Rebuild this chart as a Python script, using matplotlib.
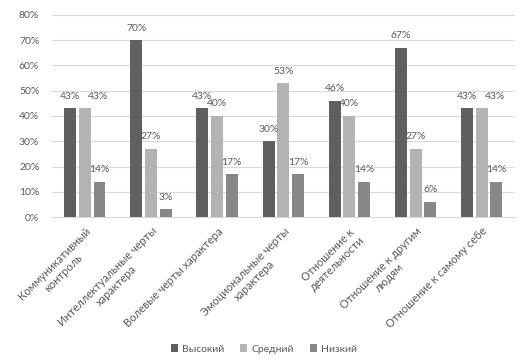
import matplotlib
matplotlib.use("Agg")
import matplotlib.pyplot as plt
import numpy as np

categories = ["Коммуникативный\nконтроль", "Интеллектуальные черты\nхарактера",
              "Волевые черты характера", "Эмоциональные черты\nхарактера",
              "Отношение к\nдеятельности", "Отношение к другим\nлюдям",
              "Отношение к самому себе"]
series_names = ["Высокий", "Средний", "Низкий"]
high = [43, 70, 43, 30, 46, 67, 43]
mid = [43, 27, 40, 53, 40, 27, 43]
low = [14, 3, 17, 17, 14, 6, 14]
yticks = [0, 10, 20, 30, 40, 50, 60, 70, 80]

colors = ["#5f5f5f", "#b3b3b3", "#878787"]
text_color = "#595959"
plt.rcParams['font.family'] = ['Lato', 'DejaVu Sans']

fig = plt.figure(figsize=(5.28, 3.63), dpi=100)
ax = fig.add_axes([0.098, 0.402, 0.877, 0.557])

x = np.arange(len(categories))
w = 0.18
step = 0.222
all_vals = [high, mid, low]
for i, (vals, name, c) in enumerate(zip(all_vals, series_names, colors)):
    xs = x + (i - 1) * step
    ax.bar(xs, vals, width=w, color=c, label=name, zorder=3)
    for j, (xi, v) in enumerate(zip(xs, vals)):
        dx = 0.0
        # Excel nudges a label right when it collides with the neighbour's label
        if i == 1 and v == all_vals[0][j]:
            dx = 0.2
        ax.text(xi + dx, v + 3.0, f"{v}%", ha="center", va="bottom", fontsize=7.5,
                color=text_color, zorder=4)

ax.set_xlim(-0.5, len(categories) - 0.5)
ax.set_ylim(0, 80)
ax.set_yticks(yticks)
ax.set_yticklabels([f"{t}%" for t in yticks], fontsize=7.5, color=text_color)
ax.yaxis.grid(True, color="#d9d9d9", linewidth=0.8, zorder=0)
ax.set_axisbelow(True)
for s in ["top", "right", "left"]:
    ax.spines[s].set_visible(False)
ax.spines["bottom"].set_color("#d9d9d9")
ax.tick_params(axis="both", length=0)
ax.tick_params(axis="y", pad=9)
ax.set_xticks(x)
ax.set_xticklabels(categories, rotation=45, ha="right", va="top",
                   rotation_mode="anchor", fontsize=8, color=text_color,
                   multialignment="center")
ax.tick_params(axis="x", pad=6)

leg = fig.legend(loc="lower center", bbox_to_anchor=(0.5, 0.0), ncol=3,
                 frameon=False, fontsize=7.5, handlelength=0.7, handleheight=0.7,
                 handletextpad=0.4, columnspacing=1.5)
for t in leg.get_texts():
    t.set_color(text_color)

fig.savefig("out.png", dpi=100)
